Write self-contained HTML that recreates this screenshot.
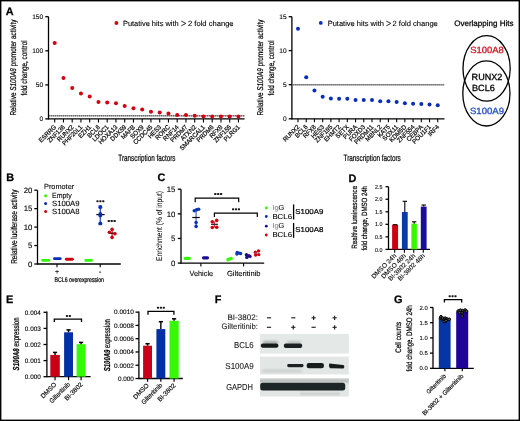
<!DOCTYPE html>
<html><head><meta charset="utf-8"><style>
html,body{margin:0;padding:0;background:#fff;}
svg{display:block;will-change:transform;}
text{font-family:"Liberation Sans", sans-serif;text-rendering:geometricPrecision;}
</style></head><body>
<svg width="520" height="421" viewBox="0 0 520 421">
<rect width="520" height="421" fill="#fff"/>
<text x="5.80" y="14.80" font-size="10.9" font-weight="bold" stroke="#000" stroke-width="0.25" >A</text>
<line x1="48.50" y1="16.70" x2="48.50" y2="119.55" stroke="#000" stroke-width="1.3" />
<line x1="45.30" y1="16.70" x2="48.50" y2="16.70" stroke="#000" stroke-width="1.3" />
<text x="43.20" y="19.10" font-size="6.6" text-anchor="end" stroke="#000" stroke-width="0.1" >150</text>
<line x1="45.30" y1="50.80" x2="48.50" y2="50.80" stroke="#000" stroke-width="1.3" />
<text x="43.20" y="53.20" font-size="6.6" text-anchor="end" stroke="#000" stroke-width="0.1" >100</text>
<line x1="45.30" y1="84.90" x2="48.50" y2="84.90" stroke="#000" stroke-width="1.3" />
<text x="43.20" y="87.30" font-size="6.6" text-anchor="end" stroke="#000" stroke-width="0.1" >50</text>
<line x1="45.30" y1="118.90" x2="48.50" y2="118.90" stroke="#000" stroke-width="1.3" />
<text x="43.20" y="121.30" font-size="6.6" text-anchor="end" stroke="#000" stroke-width="0.1" >0</text>
<line x1="48.50" y1="118.90" x2="244.60" y2="118.90" stroke="#000" stroke-width="1.3" />
<line x1="49.20" y1="115.80" x2="244.60" y2="115.80" stroke="#bbb" stroke-width="1.4" />
<line x1="49.20" y1="115.80" x2="244.60" y2="115.80" stroke="#555" stroke-width="1.4" stroke-dasharray="1 1"/>
<line x1="54.70" y1="118.90" x2="54.70" y2="122.40" stroke="#000" stroke-width="1.1" />
<circle cx="54.70" cy="42.90" r="2.0" fill="#d0000f"/>
<text transform="translate(56.70,127.50) rotate(-45)" font-size="6.4" text-anchor="end" textLength="21.69" lengthAdjust="spacingAndGlyphs" stroke="#000" stroke-width="0.2" >ESRRG</text>
<line x1="63.45" y1="118.90" x2="63.45" y2="122.40" stroke="#000" stroke-width="1.1" />
<circle cx="63.45" cy="78.00" r="2.0" fill="#d0000f"/>
<text transform="translate(65.45,127.50) rotate(-45)" font-size="6.4" text-anchor="end" textLength="22.03" lengthAdjust="spacingAndGlyphs" stroke="#000" stroke-width="0.2" >ZNF136</text>
<line x1="72.20" y1="118.90" x2="72.20" y2="122.40" stroke="#000" stroke-width="1.1" />
<circle cx="72.20" cy="88.00" r="2.0" fill="#d0000f"/>
<text transform="translate(74.20,127.50) rotate(-45)" font-size="6.4" text-anchor="end" textLength="20.68" lengthAdjust="spacingAndGlyphs" stroke="#000" stroke-width="0.2" >RUNX2</text>
<line x1="80.95" y1="118.90" x2="80.95" y2="122.40" stroke="#000" stroke-width="1.1" />
<circle cx="80.95" cy="93.50" r="2.0" fill="#d0000f"/>
<text transform="translate(82.95,127.50) rotate(-45)" font-size="6.4" text-anchor="end" textLength="25.77" lengthAdjust="spacingAndGlyphs" stroke="#000" stroke-width="0.2" >PHF20L1</text>
<line x1="89.70" y1="118.90" x2="89.70" y2="122.40" stroke="#000" stroke-width="1.1" />
<circle cx="89.70" cy="96.50" r="2.0" fill="#d0000f"/>
<text transform="translate(91.70,127.50) rotate(-45)" font-size="6.4" text-anchor="end" textLength="15.59" lengthAdjust="spacingAndGlyphs" stroke="#000" stroke-width="0.2" >EZH1</text>
<line x1="98.45" y1="118.90" x2="98.45" y2="122.40" stroke="#000" stroke-width="1.1" />
<circle cx="98.45" cy="102.00" r="2.0" fill="#d0000f"/>
<text transform="translate(100.45,127.50) rotate(-45)" font-size="6.4" text-anchor="end" textLength="15.26" lengthAdjust="spacingAndGlyphs" stroke="#000" stroke-width="0.2" >BCL6</text>
<line x1="107.20" y1="118.90" x2="107.20" y2="122.40" stroke="#000" stroke-width="1.1" />
<circle cx="107.20" cy="102.40" r="2.0" fill="#d0000f"/>
<text transform="translate(109.20,127.50) rotate(-45)" font-size="6.4" text-anchor="end" textLength="20.34" lengthAdjust="spacingAndGlyphs" stroke="#000" stroke-width="0.2" >LDOC1</text>
<line x1="115.95" y1="118.90" x2="115.95" y2="122.40" stroke="#000" stroke-width="1.1" />
<circle cx="115.95" cy="103.30" r="2.0" fill="#d0000f"/>
<text transform="translate(117.95,127.50) rotate(-45)" font-size="6.4" text-anchor="end" textLength="24.07" lengthAdjust="spacingAndGlyphs" stroke="#000" stroke-width="0.2" >HOXA13</text>
<line x1="124.70" y1="118.90" x2="124.70" y2="122.40" stroke="#000" stroke-width="1.1" />
<circle cx="124.70" cy="106.00" r="2.0" fill="#d0000f"/>
<text transform="translate(126.70,127.50) rotate(-45)" font-size="6.4" text-anchor="end" textLength="19.66" lengthAdjust="spacingAndGlyphs" stroke="#000" stroke-width="0.2" >DDX59</text>
<line x1="133.45" y1="118.90" x2="133.45" y2="122.40" stroke="#000" stroke-width="1.1" />
<circle cx="133.45" cy="108.20" r="2.0" fill="#d0000f"/>
<text transform="translate(135.45,127.50) rotate(-45)" font-size="6.4" text-anchor="end" textLength="16.94" lengthAdjust="spacingAndGlyphs" stroke="#000" stroke-width="0.2" >MAFB</text>
<line x1="142.20" y1="118.90" x2="142.20" y2="122.40" stroke="#000" stroke-width="1.1" />
<circle cx="142.20" cy="109.50" r="2.0" fill="#d0000f"/>
<text transform="translate(144.20,127.50) rotate(-45)" font-size="6.4" text-anchor="end" textLength="16.27" lengthAdjust="spacingAndGlyphs" stroke="#000" stroke-width="0.2" >SOX9</text>
<line x1="150.95" y1="118.90" x2="150.95" y2="122.40" stroke="#000" stroke-width="1.1" />
<circle cx="150.95" cy="111.80" r="2.0" fill="#d0000f"/>
<text transform="translate(152.95,127.50) rotate(-45)" font-size="6.4" text-anchor="end" textLength="24.41" lengthAdjust="spacingAndGlyphs" stroke="#000" stroke-width="0.2" >CCDC45</text>
<line x1="159.70" y1="118.90" x2="159.70" y2="122.40" stroke="#000" stroke-width="1.1" />
<circle cx="159.70" cy="112.50" r="2.0" fill="#d0000f"/>
<text transform="translate(161.70,127.50) rotate(-45)" font-size="6.4" text-anchor="end" textLength="15.94" lengthAdjust="spacingAndGlyphs" stroke="#000" stroke-width="0.2" >HES3</text>
<line x1="168.45" y1="118.90" x2="168.45" y2="122.40" stroke="#000" stroke-width="1.1" />
<circle cx="168.45" cy="113.40" r="2.0" fill="#d0000f"/>
<text transform="translate(170.45,127.50) rotate(-45)" font-size="6.4" text-anchor="end" textLength="17.96" lengthAdjust="spacingAndGlyphs" stroke="#000" stroke-width="0.2" >RORC</text>
<line x1="177.20" y1="118.90" x2="177.20" y2="122.40" stroke="#000" stroke-width="1.1" />
<circle cx="177.20" cy="115.10" r="2.0" fill="#d0000f"/>
<text transform="translate(179.20,127.50) rotate(-45)" font-size="6.4" text-anchor="end" textLength="19.32" lengthAdjust="spacingAndGlyphs" stroke="#000" stroke-width="0.2" >RNF14</text>
<line x1="185.95" y1="118.90" x2="185.95" y2="122.40" stroke="#000" stroke-width="1.1" />
<circle cx="185.95" cy="115.10" r="2.0" fill="#d0000f"/>
<text transform="translate(187.95,127.50) rotate(-45)" font-size="6.4" text-anchor="end" textLength="21.35" lengthAdjust="spacingAndGlyphs" stroke="#000" stroke-width="0.2" >PRDM7</text>
<line x1="194.70" y1="118.90" x2="194.70" y2="122.40" stroke="#000" stroke-width="1.1" />
<circle cx="194.70" cy="115.70" r="2.0" fill="#d0000f"/>
<text transform="translate(196.70,127.50) rotate(-45)" font-size="6.4" text-anchor="end" textLength="19.21" lengthAdjust="spacingAndGlyphs" stroke="#000" stroke-width="0.2" >ATXN2</text>
<line x1="203.45" y1="118.90" x2="203.45" y2="122.40" stroke="#000" stroke-width="1.1" />
<circle cx="203.45" cy="116.60" r="2.0" fill="#d0000f"/>
<text transform="translate(205.45,127.50) rotate(-45)" font-size="6.4" text-anchor="end" textLength="32.88" lengthAdjust="spacingAndGlyphs" stroke="#000" stroke-width="0.2" >SMARCAL1</text>
<line x1="212.20" y1="118.90" x2="212.20" y2="122.40" stroke="#000" stroke-width="1.1" />
<circle cx="212.20" cy="116.60" r="2.0" fill="#d0000f"/>
<text transform="translate(214.20,127.50) rotate(-45)" font-size="6.4" text-anchor="end" textLength="21.35" lengthAdjust="spacingAndGlyphs" stroke="#000" stroke-width="0.2" >PRDM6</text>
<line x1="220.95" y1="118.90" x2="220.95" y2="122.40" stroke="#000" stroke-width="1.1" />
<circle cx="220.95" cy="116.60" r="2.0" fill="#d0000f"/>
<text transform="translate(222.95,127.50) rotate(-45)" font-size="6.4" text-anchor="end" textLength="15.59" lengthAdjust="spacingAndGlyphs" stroke="#000" stroke-width="0.2" >RFX8</text>
<line x1="229.70" y1="118.90" x2="229.70" y2="122.40" stroke="#000" stroke-width="1.1" />
<circle cx="229.70" cy="116.60" r="2.0" fill="#d0000f"/>
<text transform="translate(231.70,127.50) rotate(-45)" font-size="6.4" text-anchor="end" textLength="22.03" lengthAdjust="spacingAndGlyphs" stroke="#000" stroke-width="0.2" >ZNF155</text>
<line x1="238.45" y1="118.90" x2="238.45" y2="122.40" stroke="#000" stroke-width="1.1" />
<circle cx="238.45" cy="116.60" r="2.0" fill="#d0000f"/>
<text transform="translate(240.45,127.50) rotate(-45)" font-size="6.4" text-anchor="end" textLength="20.0" lengthAdjust="spacingAndGlyphs" stroke="#000" stroke-width="0.2" >PLRG1</text>
<circle cx="116.40" cy="23.00" r="1.9" fill="#d0000f"/>
<text x="123.00" y="25.80" font-size="7.5" textLength="55.6" lengthAdjust="spacingAndGlyphs" stroke="#000" stroke-width="0.1" >Putative hits with</text>
<path d="M181.3,21.1 L185.9,23.45 L181.3,25.8" fill="none" stroke="#222" stroke-width="0.95"/>
<text x="188.00" y="25.80" font-size="7.5" textLength="45.6" lengthAdjust="spacingAndGlyphs" stroke="#000" stroke-width="0.1" >2 fold change</text>
<text transform="translate(15.60,115.60) rotate(-90)" font-size="8.4" textLength="96" lengthAdjust="spacingAndGlyphs" stroke="#000" stroke-width="0.22">Relative <tspan font-style="italic">S100A8</tspan> promoter activity</text>
<text transform="translate(27.00,95.60) rotate(-90)" font-size="8.4" textLength="55.2" lengthAdjust="spacingAndGlyphs" stroke="#000" stroke-width="0.22">fold change, control</text>
<text x="118.30" y="160.70" font-size="9" textLength="57.2" lengthAdjust="spacingAndGlyphs" stroke="#000" stroke-width="0.22">Transcription factors</text>
<line x1="291.90" y1="16.70" x2="291.90" y2="119.45" stroke="#000" stroke-width="1.3" />
<line x1="288.70" y1="16.70" x2="291.90" y2="16.70" stroke="#000" stroke-width="1.3" />
<text x="286.60" y="19.10" font-size="6.6" text-anchor="end" stroke="#000" stroke-width="0.1" >15</text>
<line x1="288.70" y1="50.60" x2="291.90" y2="50.60" stroke="#000" stroke-width="1.3" />
<text x="286.60" y="53.00" font-size="6.6" text-anchor="end" stroke="#000" stroke-width="0.1" >10</text>
<line x1="288.70" y1="84.70" x2="291.90" y2="84.70" stroke="#000" stroke-width="1.3" />
<text x="286.60" y="87.10" font-size="6.6" text-anchor="end" stroke="#000" stroke-width="0.1" >5</text>
<line x1="288.70" y1="118.80" x2="291.90" y2="118.80" stroke="#000" stroke-width="1.3" />
<text x="286.60" y="121.20" font-size="6.6" text-anchor="end" stroke="#000" stroke-width="0.1" >0</text>
<line x1="291.90" y1="118.80" x2="444.50" y2="118.80" stroke="#000" stroke-width="1.3" />
<line x1="292.60" y1="84.80" x2="444.50" y2="84.80" stroke="#bbb" stroke-width="1.4" />
<line x1="292.60" y1="84.80" x2="444.50" y2="84.80" stroke="#555" stroke-width="1.4" stroke-dasharray="1 1"/>
<line x1="298.00" y1="118.80" x2="298.00" y2="122.30" stroke="#000" stroke-width="1.1" />
<circle cx="298.00" cy="28.70" r="2.0" fill="#0a2db5"/>
<text transform="translate(300.00,127.40) rotate(-45)" font-size="6.4" text-anchor="end" textLength="20.68" lengthAdjust="spacingAndGlyphs" stroke="#000" stroke-width="0.2" >RUNX2</text>
<line x1="306.22" y1="118.80" x2="306.22" y2="122.30" stroke="#000" stroke-width="1.1" />
<circle cx="306.22" cy="77.30" r="2.0" fill="#0a2db5"/>
<text transform="translate(308.22,127.40) rotate(-45)" font-size="6.4" text-anchor="end" textLength="15.26" lengthAdjust="spacingAndGlyphs" stroke="#000" stroke-width="0.2" >BCL6</text>
<line x1="314.44" y1="118.80" x2="314.44" y2="122.30" stroke="#000" stroke-width="1.1" />
<circle cx="314.44" cy="90.40" r="2.0" fill="#0a2db5"/>
<text transform="translate(316.44,127.40) rotate(-45)" font-size="6.4" text-anchor="end" textLength="15.59" lengthAdjust="spacingAndGlyphs" stroke="#000" stroke-width="0.2" >RFX8</text>
<line x1="322.66" y1="118.80" x2="322.66" y2="122.30" stroke="#000" stroke-width="1.1" />
<circle cx="322.66" cy="96.70" r="2.0" fill="#0a2db5"/>
<text transform="translate(324.66,127.40) rotate(-45)" font-size="6.4" text-anchor="end" textLength="15.94" lengthAdjust="spacingAndGlyphs" stroke="#000" stroke-width="0.2" >HES3</text>
<line x1="330.88" y1="118.80" x2="330.88" y2="122.30" stroke="#000" stroke-width="1.1" />
<circle cx="330.88" cy="98.50" r="2.0" fill="#0a2db5"/>
<text transform="translate(332.88,127.40) rotate(-45)" font-size="6.4" text-anchor="end" textLength="22.03" lengthAdjust="spacingAndGlyphs" stroke="#000" stroke-width="0.2" >ZNF195</text>
<line x1="339.10" y1="118.80" x2="339.10" y2="122.30" stroke="#000" stroke-width="1.1" />
<circle cx="339.10" cy="98.80" r="2.0" fill="#0a2db5"/>
<text transform="translate(341.10,127.40) rotate(-45)" font-size="6.4" text-anchor="end" textLength="20.67" lengthAdjust="spacingAndGlyphs" stroke="#000" stroke-width="0.2" >EHMT2</text>
<line x1="347.32" y1="118.80" x2="347.32" y2="122.30" stroke="#000" stroke-width="1.1" />
<circle cx="347.32" cy="98.80" r="2.0" fill="#0a2db5"/>
<text transform="translate(349.32,127.40) rotate(-45)" font-size="6.4" text-anchor="end" textLength="15.93" lengthAdjust="spacingAndGlyphs" stroke="#000" stroke-width="0.2" >SETX</text>
<line x1="355.54" y1="118.80" x2="355.54" y2="122.30" stroke="#000" stroke-width="1.1" />
<circle cx="355.54" cy="100.00" r="2.0" fill="#0a2db5"/>
<text transform="translate(357.54,127.40) rotate(-45)" font-size="6.4" text-anchor="end" textLength="16.95" lengthAdjust="spacingAndGlyphs" stroke="#000" stroke-width="0.2" >PURA</text>
<line x1="363.76" y1="118.80" x2="363.76" y2="122.30" stroke="#000" stroke-width="1.1" />
<circle cx="363.76" cy="100.00" r="2.0" fill="#0a2db5"/>
<text transform="translate(365.76,127.40) rotate(-45)" font-size="6.4" text-anchor="end" textLength="20.34" lengthAdjust="spacingAndGlyphs" stroke="#000" stroke-width="0.2" >FOXD3</text>
<line x1="371.98" y1="118.80" x2="371.98" y2="122.30" stroke="#000" stroke-width="1.1" />
<circle cx="371.98" cy="100.00" r="2.0" fill="#0a2db5"/>
<text transform="translate(373.98,127.40) rotate(-45)" font-size="6.4" text-anchor="end" textLength="24.29" lengthAdjust="spacingAndGlyphs" stroke="#000" stroke-width="0.2" >PRDM11</text>
<line x1="380.20" y1="118.80" x2="380.20" y2="122.30" stroke="#000" stroke-width="1.1" />
<circle cx="380.20" cy="101.20" r="2.0" fill="#0a2db5"/>
<text transform="translate(382.20,127.40) rotate(-45)" font-size="6.4" text-anchor="end" textLength="20.34" lengthAdjust="spacingAndGlyphs" stroke="#000" stroke-width="0.2" >MBNL2</text>
<line x1="388.42" y1="118.80" x2="388.42" y2="122.30" stroke="#000" stroke-width="1.1" />
<circle cx="388.42" cy="101.20" r="2.0" fill="#0a2db5"/>
<text transform="translate(390.42,127.40) rotate(-45)" font-size="6.4" text-anchor="end" textLength="14.8" lengthAdjust="spacingAndGlyphs" stroke="#000" stroke-width="0.2" >KAT5</text>
<line x1="396.64" y1="118.80" x2="396.64" y2="122.30" stroke="#000" stroke-width="1.1" />
<circle cx="396.64" cy="102.10" r="2.0" fill="#0a2db5"/>
<text transform="translate(398.64,127.40) rotate(-45)" font-size="6.4" text-anchor="end" textLength="19.21" lengthAdjust="spacingAndGlyphs" stroke="#000" stroke-width="0.2" >SOX11</text>
<line x1="404.86" y1="118.80" x2="404.86" y2="122.30" stroke="#000" stroke-width="1.1" />
<circle cx="404.86" cy="103.30" r="2.0" fill="#0a2db5"/>
<text transform="translate(406.86,127.40) rotate(-45)" font-size="6.4" text-anchor="end" textLength="21.35" lengthAdjust="spacingAndGlyphs" stroke="#000" stroke-width="0.2" >KDM5D</text>
<line x1="413.08" y1="118.80" x2="413.08" y2="122.30" stroke="#000" stroke-width="1.1" />
<circle cx="413.08" cy="103.70" r="2.0" fill="#0a2db5"/>
<text transform="translate(415.08,127.40) rotate(-45)" font-size="6.4" text-anchor="end" textLength="22.03" lengthAdjust="spacingAndGlyphs" stroke="#000" stroke-width="0.2" >ZNF554</text>
<line x1="421.30" y1="118.80" x2="421.30" y2="122.30" stroke="#000" stroke-width="1.1" />
<circle cx="421.30" cy="104.00" r="2.0" fill="#0a2db5"/>
<text transform="translate(423.30,127.40) rotate(-45)" font-size="6.4" text-anchor="end" textLength="20.23" lengthAdjust="spacingAndGlyphs" stroke="#000" stroke-width="0.2" >CEBPA</text>
<line x1="429.52" y1="118.80" x2="429.52" y2="122.30" stroke="#000" stroke-width="1.1" />
<circle cx="429.52" cy="104.60" r="2.0" fill="#0a2db5"/>
<text transform="translate(431.52,127.40) rotate(-45)" font-size="6.4" text-anchor="end" textLength="23.73" lengthAdjust="spacingAndGlyphs" stroke="#000" stroke-width="0.2" >POU1F1</text>
<line x1="437.74" y1="118.80" x2="437.74" y2="122.30" stroke="#000" stroke-width="1.1" />
<circle cx="437.74" cy="105.20" r="2.0" fill="#0a2db5"/>
<text transform="translate(439.74,127.40) rotate(-45)" font-size="6.4" text-anchor="end" textLength="13.22" lengthAdjust="spacingAndGlyphs" stroke="#000" stroke-width="0.2" >IRF4</text>
<circle cx="320.80" cy="22.90" r="1.9" fill="#0a2db5"/>
<text x="327.70" y="25.70" font-size="7.5" textLength="56.2" lengthAdjust="spacingAndGlyphs" stroke="#000" stroke-width="0.1" >Putative hits with</text>
<path d="M386.3,21.1 L390.9,23.45 L386.3,25.8" fill="none" stroke="#222" stroke-width="0.95"/>
<text x="392.50" y="25.70" font-size="7.5" textLength="45.3" lengthAdjust="spacingAndGlyphs" stroke="#000" stroke-width="0.1" >2 fold change</text>
<text transform="translate(263.00,115.60) rotate(-90)" font-size="8.4" textLength="96" lengthAdjust="spacingAndGlyphs" stroke="#000" stroke-width="0.22">Relative <tspan font-style="italic">S100A9</tspan> promoter activity</text>
<text transform="translate(274.00,95.50) rotate(-90)" font-size="8.4" textLength="55.1" lengthAdjust="spacingAndGlyphs" stroke="#000" stroke-width="0.22">fold change, control</text>
<text x="343.50" y="160.80" font-size="9" textLength="57.3" lengthAdjust="spacingAndGlyphs" stroke="#000" stroke-width="0.22">Transcription factors</text>
<text x="454.20" y="25.80" font-size="8.0" textLength="59.3" lengthAdjust="spacingAndGlyphs" stroke="#000" stroke-width="0.25" >Overlapping Hits</text>
<ellipse cx="486.6" cy="68.4" rx="23.6" ry="32.7" fill="none" stroke="#000" stroke-width="1.3"/>
<ellipse cx="486.4" cy="93.4" rx="23.6" ry="32.6" fill="none" stroke="#000" stroke-width="1.3"/>
<text x="470.20" y="53.30" font-size="9.0" fill="#d41c2a" textLength="33.5" lengthAdjust="spacingAndGlyphs" stroke="#d41c2a" stroke-width="0.35" >S100A8</text>
<text x="471.60" y="79.70" font-size="9.0" textLength="30.7" lengthAdjust="spacingAndGlyphs" stroke="#000" stroke-width="0.3" >RUNX2</text>
<text x="472.00" y="91.10" font-size="9.0" textLength="22.9" lengthAdjust="spacingAndGlyphs" stroke="#000" stroke-width="0.3" >BCL6</text>
<text x="470.00" y="113.70" font-size="9.0" fill="#2a54c6" textLength="34" lengthAdjust="spacingAndGlyphs" stroke="#2a54c6" stroke-width="0.35" >S100A9</text>
<text x="6.20" y="181.30" font-size="10.9" font-weight="bold" stroke="#000" stroke-width="0.25" >B</text>
<line x1="37.50" y1="190.30" x2="37.50" y2="264.65" stroke="#000" stroke-width="1.3" />
<line x1="34.30" y1="264.00" x2="37.50" y2="264.00" stroke="#000" stroke-width="1.3" />
<text x="32.40" y="266.70" font-size="7.8" text-anchor="end" stroke="#000" stroke-width="0.1" >0</text>
<line x1="34.30" y1="245.55" x2="37.50" y2="245.55" stroke="#000" stroke-width="1.3" />
<text x="32.40" y="248.25" font-size="7.8" text-anchor="end" stroke="#000" stroke-width="0.1" >5</text>
<line x1="34.30" y1="227.10" x2="37.50" y2="227.10" stroke="#000" stroke-width="1.3" />
<text x="32.40" y="229.80" font-size="7.8" text-anchor="end" stroke="#000" stroke-width="0.1" >10</text>
<line x1="34.30" y1="208.65" x2="37.50" y2="208.65" stroke="#000" stroke-width="1.3" />
<text x="32.40" y="211.35" font-size="7.8" text-anchor="end" stroke="#000" stroke-width="0.1" >15</text>
<line x1="34.30" y1="190.20" x2="37.50" y2="190.20" stroke="#000" stroke-width="1.3" />
<text x="32.40" y="192.90" font-size="7.8" text-anchor="end" stroke="#000" stroke-width="0.1" >20</text>
<line x1="37.50" y1="264.00" x2="120.80" y2="264.00" stroke="#000" stroke-width="1.3" />
<line x1="57.00" y1="264.00" x2="57.00" y2="267.30" stroke="#000" stroke-width="1.1" />
<text x="57.00" y="274.00" font-size="7.0" text-anchor="middle" stroke="#000" stroke-width="0.1" >+</text>
<line x1="100.20" y1="264.00" x2="100.20" y2="267.30" stroke="#000" stroke-width="1.1" />
<text x="100.20" y="274.00" font-size="7.0" text-anchor="middle" stroke="#000" stroke-width="0.1" >-</text>
<text x="54.60" y="282.20" font-size="6.8" textLength="49.4" lengthAdjust="spacingAndGlyphs" stroke="#000" stroke-width="0.22">BCL6 overexpression</text>
<text transform="translate(16.60,263.80) rotate(-90)" font-size="8.6" textLength="74.2" lengthAdjust="spacingAndGlyphs" stroke="#000" stroke-width="0.22">Relative luciferase activity</text>
<text x="44.00" y="189.30" font-size="7.4" textLength="30.2" lengthAdjust="spacingAndGlyphs" stroke="#000" stroke-width="0.1" >Promoter</text>
<circle cx="45.60" cy="195.70" r="1.5" fill="#33f800"/>
<text x="52.00" y="197.80" font-size="7.6" textLength="19.8" lengthAdjust="spacingAndGlyphs" stroke="#000" stroke-width="0.1" >Empty</text>
<circle cx="45.60" cy="203.60" r="1.5" fill="#0a2db5"/>
<text x="52.00" y="206.40" font-size="7.6" textLength="27.6" lengthAdjust="spacingAndGlyphs" stroke="#000" stroke-width="0.1" >S100A9</text>
<circle cx="45.60" cy="211.50" r="1.5" fill="#d0000f"/>
<text x="52.00" y="214.40" font-size="7.6" textLength="27.6" lengthAdjust="spacingAndGlyphs" stroke="#000" stroke-width="0.1" >S100A8</text>
<line x1="42.65" y1="260.35" x2="48.75" y2="260.35" stroke="#33f800" stroke-width="2.9" stroke-linecap="round"/>
<line x1="54.45" y1="258.65" x2="60.25" y2="258.65" stroke="#0a2db5" stroke-width="2.9" stroke-linecap="round"/>
<line x1="66.35" y1="259.20" x2="72.35" y2="259.20" stroke="#d0000f" stroke-width="2.9" stroke-linecap="round"/>
<line x1="85.85" y1="260.40" x2="91.45" y2="260.40" stroke="#33f800" stroke-width="2.9" stroke-linecap="round"/>
<line x1="100.30" y1="207.00" x2="100.30" y2="223.30" stroke="#2a50c8" stroke-width="1.3" />
<line x1="96.30" y1="214.60" x2="104.60" y2="214.60" stroke="#000" stroke-width="1.2" />
<circle cx="100.30" cy="207.20" r="1.9" fill="#0a2db5"/>
<circle cx="100.30" cy="214.00" r="1.9" fill="#0a2db5"/>
<circle cx="100.30" cy="215.60" r="1.9" fill="#0a2db5"/>
<circle cx="100.30" cy="223.30" r="1.9" fill="#0a2db5"/>
<line x1="98.50" y1="206.00" x2="102.10" y2="206.00" stroke="#0a2db5" stroke-width="1.1" />
<line x1="98.50" y1="224.60" x2="102.10" y2="224.60" stroke="#0a2db5" stroke-width="1.1" />
<rect x="96.40" y="200.20" width="2.2" height="2.0" rx="0.6" fill="#1a1a1a"/>
<rect x="99.30" y="200.20" width="2.2" height="2.0" rx="0.6" fill="#1a1a1a"/>
<rect x="102.20" y="200.20" width="2.2" height="2.0" rx="0.6" fill="#1a1a1a"/>
<line x1="112.10" y1="229.00" x2="112.10" y2="237.70" stroke="#d83040" stroke-width="1.3" />
<line x1="108.80" y1="233.20" x2="115.40" y2="233.20" stroke="#000" stroke-width="1.2" />
<circle cx="112.10" cy="229.40" r="1.8" fill="#d0000f"/>
<circle cx="109.40" cy="232.30" r="1.8" fill="#d0000f"/>
<circle cx="115.00" cy="233.80" r="1.8" fill="#d0000f"/>
<circle cx="112.10" cy="237.40" r="1.8" fill="#d0000f"/>
<rect x="107.70" y="220.00" width="2.2" height="2.0" rx="0.6" fill="#1a1a1a"/>
<rect x="110.60" y="220.00" width="2.2" height="2.0" rx="0.6" fill="#1a1a1a"/>
<rect x="113.50" y="220.00" width="2.2" height="2.0" rx="0.6" fill="#1a1a1a"/>
<text x="157.60" y="181.20" font-size="10.9" font-weight="bold" stroke="#000" stroke-width="0.25" >C</text>
<line x1="181.00" y1="189.20" x2="181.00" y2="263.75" stroke="#000" stroke-width="1.3" />
<line x1="177.80" y1="263.10" x2="181.00" y2="263.10" stroke="#000" stroke-width="1.3" />
<text x="175.40" y="265.80" font-size="7.8" text-anchor="end" stroke="#000" stroke-width="0.1" >0</text>
<line x1="177.80" y1="238.47" x2="181.00" y2="238.47" stroke="#000" stroke-width="1.3" />
<text x="175.40" y="241.17" font-size="7.8" text-anchor="end" stroke="#000" stroke-width="0.1" >5</text>
<line x1="177.80" y1="213.84" x2="181.00" y2="213.84" stroke="#000" stroke-width="1.3" />
<text x="175.40" y="216.54" font-size="7.8" text-anchor="end" stroke="#000" stroke-width="0.1" >10</text>
<line x1="177.80" y1="189.21" x2="181.00" y2="189.21" stroke="#000" stroke-width="1.3" />
<text x="175.40" y="191.91" font-size="7.8" text-anchor="end" stroke="#000" stroke-width="0.1" >15</text>
<line x1="181.00" y1="263.10" x2="264.20" y2="263.10" stroke="#000" stroke-width="1.3" />
<line x1="200.90" y1="263.10" x2="200.90" y2="266.60" stroke="#000" stroke-width="1.1" />
<line x1="243.60" y1="263.10" x2="243.60" y2="266.60" stroke="#000" stroke-width="1.1" />
<text x="189.50" y="276.00" font-size="7.4" textLength="23.6" lengthAdjust="spacingAndGlyphs" stroke="#000" stroke-width="0.1" >Vehicle</text>
<text x="226.90" y="276.00" font-size="7.4" textLength="33.7" lengthAdjust="spacingAndGlyphs" stroke="#000" stroke-width="0.1" >Gilteritinib</text>
<text transform="translate(162.20,260.90) rotate(-90)" font-size="8.2" textLength="70" lengthAdjust="spacingAndGlyphs" stroke="#000" stroke-width="0.05" >Enrichment (% of input)</text>
<path d="M195.2,202.2 V198.2 H238.7 V202.2" fill="none" stroke="#000" stroke-width="1.2"/>
<rect x="214.20" y="193.00" width="2.2" height="2.0" rx="0.6" fill="#1a1a1a"/>
<rect x="217.10" y="193.00" width="2.2" height="2.0" rx="0.6" fill="#1a1a1a"/>
<rect x="220.00" y="193.00" width="2.2" height="2.0" rx="0.6" fill="#1a1a1a"/>
<path d="M214.4,217.0 V213.2 H257.3 V217.0" fill="none" stroke="#000" stroke-width="1.2"/>
<rect x="232.00" y="208.30" width="2.2" height="2.0" rx="0.6" fill="#1a1a1a"/>
<rect x="234.90" y="208.30" width="2.2" height="2.0" rx="0.6" fill="#1a1a1a"/>
<rect x="237.80" y="208.30" width="2.2" height="2.0" rx="0.6" fill="#1a1a1a"/>
<line x1="196.10" y1="210.00" x2="196.10" y2="226.60" stroke="#4a72cc" stroke-width="1.3" />
<line x1="192.30" y1="217.50" x2="199.80" y2="217.50" stroke="#000" stroke-width="1.2" />
<circle cx="194.30" cy="210.70" r="1.8" fill="#0b34b6"/>
<circle cx="196.60" cy="209.70" r="1.8" fill="#0b34b6"/>
<circle cx="198.60" cy="209.30" r="1.8" fill="#0b34b6"/>
<circle cx="196.10" cy="222.50" r="1.8" fill="#0b34b6"/>
<circle cx="196.10" cy="226.40" r="1.8" fill="#0b34b6"/>
<line x1="185.30" y1="258.40" x2="189.20" y2="258.40" stroke="#33f800" stroke-width="3.2" stroke-linecap="round"/>
<line x1="203.50" y1="257.80" x2="207.50" y2="257.80" stroke="#1a0a9c" stroke-width="3.2" stroke-linecap="round"/>
<line x1="214.30" y1="221.50" x2="214.30" y2="227.50" stroke="#d83040" stroke-width="1.3" />
<line x1="211.00" y1="224.30" x2="218.00" y2="224.30" stroke="#222" stroke-width="1.2" />
<circle cx="212.30" cy="221.80" r="1.8" fill="#d0000f"/>
<circle cx="216.70" cy="220.40" r="1.8" fill="#d0000f"/>
<circle cx="212.30" cy="227.50" r="1.8" fill="#d0000f"/>
<circle cx="216.70" cy="227.20" r="1.8" fill="#d0000f"/>
<circle cx="227.90" cy="259.70" r="1.7" fill="#33f800"/>
<circle cx="229.60" cy="259.00" r="1.7" fill="#33f800"/>
<circle cx="231.20" cy="258.40" r="1.7" fill="#33f800"/>
<circle cx="237.20" cy="252.50" r="1.7" fill="#0b34b6"/>
<circle cx="236.90" cy="254.10" r="1.7" fill="#0b34b6"/>
<circle cx="239.20" cy="253.10" r="1.7" fill="#0b34b6"/>
<circle cx="240.60" cy="253.50" r="1.7" fill="#0b34b6"/>
<circle cx="246.40" cy="254.80" r="1.7" fill="#1a0a9c"/>
<circle cx="246.80" cy="257.40" r="1.7" fill="#1a0a9c"/>
<circle cx="248.80" cy="255.70" r="1.7" fill="#1a0a9c"/>
<circle cx="250.00" cy="256.40" r="1.7" fill="#1a0a9c"/>
<line x1="245.80" y1="256.00" x2="249.50" y2="256.00" stroke="#222" stroke-width="0.9" />
<circle cx="255.40" cy="252.20" r="1.7" fill="#d0000f"/>
<circle cx="258.60" cy="250.90" r="1.7" fill="#d0000f"/>
<circle cx="255.60" cy="255.00" r="1.7" fill="#d0000f"/>
<circle cx="258.80" cy="254.60" r="1.7" fill="#d0000f"/>
<line x1="255.00" y1="253.20" x2="259.50" y2="253.20" stroke="#777" stroke-width="0.9" />
<circle cx="266.30" cy="208.00" r="1.4" fill="#33f800"/>
<text x="272.40" y="209.80" font-size="7.2" fill="#222" textLength="12.0" lengthAdjust="spacingAndGlyphs" stroke="#222" stroke-width="0.1" ><tspan fill="#888" stroke="#888">Ig</tspan>G</text>
<circle cx="266.30" cy="216.50" r="1.4" fill="#0b34b6"/>
<text x="272.40" y="218.80" font-size="7.2" textLength="19.6" lengthAdjust="spacingAndGlyphs" stroke="#000" stroke-width="0.1" >BCL6</text>
<circle cx="266.30" cy="226.20" r="1.4" fill="#1a0a9c"/>
<text x="272.40" y="228.00" font-size="7.2" fill="#222" textLength="12.0" lengthAdjust="spacingAndGlyphs" stroke="#222" stroke-width="0.1" ><tspan fill="#888" stroke="#888">Ig</tspan>G</text>
<circle cx="266.30" cy="235.00" r="1.4" fill="#d0000f"/>
<text x="272.40" y="237.10" font-size="7.2" textLength="19.6" lengthAdjust="spacingAndGlyphs" stroke="#000" stroke-width="0.1" >BCL6</text>
<line x1="293.60" y1="204.40" x2="293.60" y2="219.50" stroke="#000" stroke-width="1.3" />
<line x1="293.60" y1="223.00" x2="293.60" y2="237.80" stroke="#000" stroke-width="1.3" />
<text x="295.30" y="213.80" font-size="7.2" textLength="28" lengthAdjust="spacingAndGlyphs" stroke="#000" stroke-width="0.2" >S100A9</text>
<text x="295.30" y="232.00" font-size="7.2" textLength="28" lengthAdjust="spacingAndGlyphs" stroke="#000" stroke-width="0.2" >S100A8</text>
<text x="348.60" y="182.30" font-size="10.9" font-weight="bold" stroke="#000" stroke-width="0.25" >D</text>
<line x1="388.50" y1="186.70" x2="388.50" y2="250.05" stroke="#000" stroke-width="1.3" />
<line x1="385.50" y1="249.40" x2="388.50" y2="249.40" stroke="#000" stroke-width="1.3" />
<text x="382.40" y="251.50" font-size="5.8" text-anchor="end" textLength="7.4" lengthAdjust="spacingAndGlyphs" stroke="#000" stroke-width="0.1" >0.0</text>
<line x1="385.50" y1="236.86" x2="388.50" y2="236.86" stroke="#000" stroke-width="1.3" />
<text x="382.40" y="238.96" font-size="5.8" text-anchor="end" textLength="7.4" lengthAdjust="spacingAndGlyphs" stroke="#000" stroke-width="0.1" >0.5</text>
<line x1="385.50" y1="224.32" x2="388.50" y2="224.32" stroke="#000" stroke-width="1.3" />
<text x="382.40" y="226.42" font-size="5.8" text-anchor="end" textLength="7.4" lengthAdjust="spacingAndGlyphs" stroke="#000" stroke-width="0.1" >1.0</text>
<line x1="385.50" y1="211.78" x2="388.50" y2="211.78" stroke="#000" stroke-width="1.3" />
<text x="382.40" y="213.88" font-size="5.8" text-anchor="end" textLength="7.4" lengthAdjust="spacingAndGlyphs" stroke="#000" stroke-width="0.1" >1.5</text>
<line x1="385.50" y1="199.24" x2="388.50" y2="199.24" stroke="#000" stroke-width="1.3" />
<text x="382.40" y="201.34" font-size="5.8" text-anchor="end" textLength="7.4" lengthAdjust="spacingAndGlyphs" stroke="#000" stroke-width="0.1" >2.0</text>
<line x1="385.50" y1="186.70" x2="388.50" y2="186.70" stroke="#000" stroke-width="1.3" />
<text x="382.40" y="188.80" font-size="5.8" text-anchor="end" textLength="7.4" lengthAdjust="spacingAndGlyphs" stroke="#000" stroke-width="0.1" >2.5</text>
<line x1="388.50" y1="249.40" x2="429.90" y2="249.40" stroke="#000" stroke-width="1.3" />
<rect x="392.10" y="224.70" width="6.00" height="24.70" fill="#cc0012" />
<line x1="395.10" y1="224.70" x2="395.10" y2="224.70" stroke="#000" stroke-width="0" />
<line x1="392.90" y1="224.70" x2="397.30" y2="224.70" stroke="#000" stroke-width="1.1" />
<rect x="401.90" y="212.00" width="5.80" height="37.40" fill="#0b3aa8" />
<line x1="404.80" y1="212.00" x2="404.80" y2="212.00" stroke="#000" stroke-width="0" />
<line x1="404.80" y1="212.00" x2="404.80" y2="201.30" stroke="#000" stroke-width="1.1" />
<line x1="402.60" y1="201.30" x2="407.00" y2="201.30" stroke="#000" stroke-width="1.1" />
<rect x="411.40" y="223.70" width="5.50" height="25.70" fill="#3cf500" />
<line x1="414.15" y1="223.70" x2="414.15" y2="223.70" stroke="#000" stroke-width="0" />
<line x1="414.15" y1="223.70" x2="414.15" y2="221.80" stroke="#000" stroke-width="1.1" />
<line x1="411.95" y1="221.80" x2="416.35" y2="221.80" stroke="#000" stroke-width="1.1" />
<rect x="420.80" y="206.60" width="5.80" height="42.80" fill="#1c0c9c" />
<line x1="423.70" y1="206.60" x2="423.70" y2="206.60" stroke="#000" stroke-width="0" />
<line x1="423.70" y1="206.60" x2="423.70" y2="205.00" stroke="#000" stroke-width="1.1" />
<line x1="421.50" y1="205.00" x2="425.90" y2="205.00" stroke="#000" stroke-width="1.1" />
<line x1="394.70" y1="249.40" x2="394.70" y2="252.80" stroke="#000" stroke-width="1.1" />
<text transform="translate(396.70,256.30) rotate(-45)" font-size="6.5" text-anchor="end" stroke="#000" stroke-width="0.1" >DMSO 24h</text>
<line x1="404.40" y1="249.40" x2="404.40" y2="252.80" stroke="#000" stroke-width="1.1" />
<text transform="translate(406.40,256.30) rotate(-45)" font-size="6.5" text-anchor="end" stroke="#000" stroke-width="0.1" >DMSO 48h</text>
<line x1="413.75" y1="249.40" x2="413.75" y2="252.80" stroke="#000" stroke-width="1.1" />
<text transform="translate(415.75,256.30) rotate(-45)" font-size="6.5" text-anchor="end" stroke="#000" stroke-width="0.1" >BI-3802 24h</text>
<line x1="423.30" y1="249.40" x2="423.30" y2="252.80" stroke="#000" stroke-width="1.1" />
<text transform="translate(425.30,256.30) rotate(-45)" font-size="6.5" text-anchor="end" stroke="#000" stroke-width="0.1" >BI-3802 48h</text>
<text transform="translate(357.00,248.80) rotate(-90)" font-size="7.6" textLength="63" lengthAdjust="spacingAndGlyphs" stroke="#000" stroke-width="0.22">Realtive luminescence</text>
<text transform="translate(366.80,250.60) rotate(-90)" font-size="7.6" textLength="64.6" lengthAdjust="spacingAndGlyphs" stroke="#000" stroke-width="0.22">fold change, DMSO 24h</text>
<text x="5.90" y="302.90" font-size="10.9" font-weight="bold" stroke="#000" stroke-width="0.25" >E</text>
<line x1="46.90" y1="311.60" x2="46.90" y2="377.35" stroke="#000" stroke-width="1.3" />
<line x1="43.50" y1="376.70" x2="46.90" y2="376.70" stroke="#000" stroke-width="1.3" />
<text x="40.80" y="379.00" font-size="6.4" text-anchor="end" textLength="16.0" lengthAdjust="spacingAndGlyphs" stroke="#000" stroke-width="0.1" >0.000</text>
<line x1="43.50" y1="360.60" x2="46.90" y2="360.60" stroke="#000" stroke-width="1.3" />
<text x="40.80" y="362.90" font-size="6.4" text-anchor="end" textLength="16.0" lengthAdjust="spacingAndGlyphs" stroke="#000" stroke-width="0.1" >0.001</text>
<line x1="43.50" y1="344.50" x2="46.90" y2="344.50" stroke="#000" stroke-width="1.3" />
<text x="40.80" y="346.80" font-size="6.4" text-anchor="end" textLength="16.0" lengthAdjust="spacingAndGlyphs" stroke="#000" stroke-width="0.1" >0.002</text>
<line x1="43.50" y1="328.40" x2="46.90" y2="328.40" stroke="#000" stroke-width="1.3" />
<text x="40.80" y="330.70" font-size="6.4" text-anchor="end" textLength="16.0" lengthAdjust="spacingAndGlyphs" stroke="#000" stroke-width="0.1" >0.003</text>
<line x1="43.50" y1="312.30" x2="46.90" y2="312.30" stroke="#000" stroke-width="1.3" />
<text x="40.80" y="314.60" font-size="6.4" text-anchor="end" textLength="16.0" lengthAdjust="spacingAndGlyphs" stroke="#000" stroke-width="0.1" >0.004</text>
<line x1="46.90" y1="376.70" x2="90.60" y2="376.70" stroke="#000" stroke-width="1.3" />
<rect x="50.30" y="354.90" width="9.50" height="21.80" fill="#c80018" />
<line x1="55.05" y1="354.90" x2="55.05" y2="352.40" stroke="#000" stroke-width="1.4" />
<line x1="52.95" y1="352.40" x2="57.15" y2="352.40" stroke="#000" stroke-width="1.5" />
<line x1="55.05" y1="376.70" x2="55.05" y2="380.20" stroke="#000" stroke-width="1.2" />
<text transform="translate(56.95,385.00) rotate(-45)" font-size="6.5" text-anchor="end" stroke="#000" stroke-width="0.15" >DMSO</text>
<rect x="64.10" y="332.30" width="8.90" height="44.40" fill="#0330a4" />
<line x1="68.55" y1="332.30" x2="68.55" y2="329.90" stroke="#000" stroke-width="1.4" />
<line x1="66.45" y1="329.90" x2="70.65" y2="329.90" stroke="#000" stroke-width="1.5" />
<line x1="68.55" y1="376.70" x2="68.55" y2="380.20" stroke="#000" stroke-width="1.2" />
<text transform="translate(70.45,385.00) rotate(-45)" font-size="6.5" text-anchor="end" textLength="26.0" lengthAdjust="spacingAndGlyphs" stroke="#000" stroke-width="0.15" >Gilteritinib</text>
<rect x="76.60" y="344.20" width="9.00" height="32.50" fill="#35fa05" />
<line x1="81.10" y1="344.20" x2="81.10" y2="342.40" stroke="#000" stroke-width="1.4" />
<line x1="79.00" y1="342.40" x2="83.20" y2="342.40" stroke="#000" stroke-width="1.5" />
<line x1="81.10" y1="376.70" x2="81.10" y2="380.20" stroke="#000" stroke-width="1.2" />
<text transform="translate(83.00,385.00) rotate(-45)" font-size="6.5" text-anchor="end" stroke="#000" stroke-width="0.15" >BI-3802</text>
<path d="M54.3,322.0 V319.1 H81.5 V322.0" fill="none" stroke="#000" stroke-width="1.3"/>
<rect x="65.85" y="314.90" width="2.2" height="2.0" rx="0.6" fill="#1a1a1a"/>
<rect x="68.75" y="314.90" width="2.2" height="2.0" rx="0.6" fill="#1a1a1a"/>
<text transform="translate(18.80,370.40) rotate(-90)" font-size="8.6" textLength="53.0" lengthAdjust="spacingAndGlyphs" stroke="#000" stroke-width="0.22"><tspan font-style="italic" font-weight="bold">S100A8</tspan> expression</text>
<line x1="138.90" y1="311.60" x2="138.90" y2="379.15" stroke="#000" stroke-width="1.3" />
<line x1="135.50" y1="378.50" x2="138.90" y2="378.50" stroke="#000" stroke-width="1.3" />
<text x="133.90" y="380.80" font-size="6.4" text-anchor="end" textLength="16" lengthAdjust="spacingAndGlyphs" stroke="#000" stroke-width="0.1" >0.000</text>
<line x1="135.50" y1="365.23" x2="138.90" y2="365.23" stroke="#000" stroke-width="1.3" />
<text x="133.90" y="367.53" font-size="6.4" text-anchor="end" textLength="19.9" lengthAdjust="spacingAndGlyphs" stroke="#000" stroke-width="0.1" >0.0002</text>
<line x1="135.50" y1="351.96" x2="138.90" y2="351.96" stroke="#000" stroke-width="1.3" />
<text x="133.90" y="354.26" font-size="6.4" text-anchor="end" textLength="19.9" lengthAdjust="spacingAndGlyphs" stroke="#000" stroke-width="0.1" >0.0004</text>
<line x1="135.50" y1="338.69" x2="138.90" y2="338.69" stroke="#000" stroke-width="1.3" />
<text x="133.90" y="340.99" font-size="6.4" text-anchor="end" textLength="19.9" lengthAdjust="spacingAndGlyphs" stroke="#000" stroke-width="0.1" >0.0006</text>
<line x1="135.50" y1="325.42" x2="138.90" y2="325.42" stroke="#000" stroke-width="1.3" />
<text x="133.90" y="327.72" font-size="6.4" text-anchor="end" textLength="19.9" lengthAdjust="spacingAndGlyphs" stroke="#000" stroke-width="0.1" >0.0008</text>
<line x1="135.50" y1="312.15" x2="138.90" y2="312.15" stroke="#000" stroke-width="1.3" />
<text x="133.90" y="314.45" font-size="6.4" text-anchor="end" textLength="19.9" lengthAdjust="spacingAndGlyphs" stroke="#000" stroke-width="0.1" >0.0010</text>
<line x1="138.90" y1="378.50" x2="182.80" y2="378.50" stroke="#000" stroke-width="1.3" />
<rect x="143.10" y="345.70" width="8.90" height="32.80" fill="#c80018" />
<line x1="147.55" y1="345.70" x2="147.55" y2="343.70" stroke="#000" stroke-width="1.4" />
<line x1="145.45" y1="343.70" x2="149.65" y2="343.70" stroke="#000" stroke-width="1.5" />
<line x1="147.55" y1="378.50" x2="147.55" y2="381.80" stroke="#000" stroke-width="1.2" />
<text transform="translate(149.45,385.90) rotate(-45)" font-size="6.5" text-anchor="end" stroke="#000" stroke-width="0.15" >DMSO</text>
<rect x="156.40" y="329.10" width="8.90" height="49.40" fill="#0330a4" />
<line x1="160.85" y1="329.10" x2="160.85" y2="321.70" stroke="#000" stroke-width="1.4" />
<line x1="158.75" y1="321.70" x2="162.95" y2="321.70" stroke="#000" stroke-width="1.5" />
<line x1="160.85" y1="378.50" x2="160.85" y2="381.80" stroke="#000" stroke-width="1.2" />
<text transform="translate(162.75,385.90) rotate(-45)" font-size="6.5" text-anchor="end" textLength="26.5" lengthAdjust="spacingAndGlyphs" stroke="#000" stroke-width="0.15" >Gilteritinib</text>
<rect x="169.50" y="320.80" width="9.20" height="57.70" fill="#35fa05" />
<line x1="174.10" y1="320.80" x2="174.10" y2="318.80" stroke="#000" stroke-width="1.4" />
<line x1="172.00" y1="318.80" x2="176.20" y2="318.80" stroke="#000" stroke-width="1.5" />
<line x1="174.10" y1="378.50" x2="174.10" y2="381.80" stroke="#000" stroke-width="1.2" />
<text transform="translate(176.00,385.90) rotate(-45)" font-size="6.5" text-anchor="end" stroke="#000" stroke-width="0.15" >BI-3802</text>
<path d="M148.0,314.8 V311.3 H173.9 V314.8" fill="none" stroke="#000" stroke-width="1.3"/>
<rect x="156.90" y="306.70" width="2.2" height="2.0" rx="0.6" fill="#1a1a1a"/>
<rect x="159.80" y="306.70" width="2.2" height="2.0" rx="0.6" fill="#1a1a1a"/>
<rect x="162.70" y="306.70" width="2.2" height="2.0" rx="0.6" fill="#1a1a1a"/>
<text transform="translate(110.40,371.20) rotate(-90)" font-size="8.6" textLength="52" lengthAdjust="spacingAndGlyphs" stroke="#000" stroke-width="0.22"><tspan font-style="italic" font-weight="bold">S100A9</tspan> expression</text>
<text x="214.70" y="303.20" font-size="10.9" font-weight="bold" stroke="#000" stroke-width="0.25" >F</text>
<text x="257.90" y="320.40" font-size="8.0" text-anchor="end" fill="#222" textLength="30.4" lengthAdjust="spacingAndGlyphs" stroke="#222" stroke-width="0.1" >BI-3802:</text>
<text x="257.90" y="329.10" font-size="8.0" text-anchor="end" fill="#222" textLength="36.3" lengthAdjust="spacingAndGlyphs" stroke="#222" stroke-width="0.1" >Gilteritinib:</text>
<text x="234.10" y="348.20" font-size="8.6" fill="#222" textLength="19.5" lengthAdjust="spacingAndGlyphs" stroke="#222" stroke-width="0.1" >BCL6</text>
<text x="225.30" y="369.00" font-size="8.6" fill="#222" textLength="28.5" lengthAdjust="spacingAndGlyphs" stroke="#222" stroke-width="0.1" >S100A9</text>
<text x="226.20" y="389.50" font-size="8.6" fill="#222" textLength="26.8" lengthAdjust="spacingAndGlyphs" stroke="#222" stroke-width="0.1" >GAPDH</text>
<line x1="266.90" y1="317.80" x2="271.10" y2="317.80" stroke="#2a2a2a" stroke-width="1.2" />
<line x1="266.90" y1="327.30" x2="271.10" y2="327.30" stroke="#2a2a2a" stroke-width="1.2" />
<line x1="291.20" y1="317.80" x2="295.40" y2="317.80" stroke="#2a2a2a" stroke-width="1.2" />
<line x1="291.20" y1="327.30" x2="295.40" y2="327.30" stroke="#2a2a2a" stroke-width="1.2" />
<line x1="293.30" y1="325.20" x2="293.30" y2="329.40" stroke="#2a2a2a" stroke-width="1.2" />
<line x1="311.50" y1="317.80" x2="315.70" y2="317.80" stroke="#2a2a2a" stroke-width="1.2" />
<line x1="313.60" y1="315.70" x2="313.60" y2="319.90" stroke="#2a2a2a" stroke-width="1.2" />
<line x1="311.50" y1="327.30" x2="315.70" y2="327.30" stroke="#2a2a2a" stroke-width="1.2" />
<line x1="332.50" y1="317.80" x2="336.70" y2="317.80" stroke="#2a2a2a" stroke-width="1.2" />
<line x1="334.60" y1="315.70" x2="334.60" y2="319.90" stroke="#2a2a2a" stroke-width="1.2" />
<line x1="332.50" y1="327.30" x2="336.70" y2="327.30" stroke="#2a2a2a" stroke-width="1.2" />
<line x1="334.60" y1="325.20" x2="334.60" y2="329.40" stroke="#2a2a2a" stroke-width="1.2" />
<defs><filter id="bl" x="-20%" y="-80%" width="140%" height="260%"><feGaussianBlur stdDeviation="0.7"/></filter><filter id="bl2" x="-20%" y="-80%" width="140%" height="260%"><feGaussianBlur stdDeviation="1.2"/></filter><linearGradient id="gg" x1="0" y1="0" x2="0" y2="1"><stop offset="0" stop-color="#d4d9d7"/><stop offset="0.45" stop-color="#b9bfbd"/><stop offset="1" stop-color="#e4e8e6"/></linearGradient></defs>
<rect x="259.80" y="333.90" width="89.00" height="19.70" fill="#e4e8e6" />
<rect x="259.90" y="356.60" width="88.90" height="17.80" fill="#e2e6e4" />
<rect x="259.90" y="378.30" width="88.90" height="18.20" fill="#e2e6e4" />
<rect x="259.90" y="378.30" width="88.90" height="6.00" fill="url(#gg)" />
<g filter="url(#bl2)">
<rect x="263" y="341.0" width="15" height="3" rx="1.5" fill="#a4aaa8"/>
<rect x="287" y="341.2" width="14" height="2.6" rx="1.2" fill="#b4bab8"/>
<rect x="262" y="369.5" width="40" height="3" rx="1.5" fill="#ccd1cf"/>
<rect x="300" y="393" width="40" height="1.6" rx="0.8" fill="#b8bdbb"/>
</g>
<g filter="url(#bl)">
<rect x="260.8" y="343.4" width="17.6" height="4.3" rx="2.0" fill="#141a1a"/>
<rect x="283.8" y="343.5" width="18.4" height="4.4" rx="2.0" fill="#1a2020"/>
<rect x="287.2" y="364.1" width="16.3" height="3.1" rx="1.4" fill="#1a2020"/>
<rect x="306.6" y="363.0" width="17.4" height="5.3" rx="2.4" fill="#151b1b"/>
<path d="M329.3,363.6 L343.3,364.9 Q345.3,366.3 343.5,368.5 L330,368.3 Q328.2,366 329.3,363.6 Z" fill="#171d1d"/>
<rect x="260.2" y="382.8" width="85.0" height="7.6" rx="2.5" fill="#1d2525"/>
</g>
<text x="394.00" y="303.30" font-size="10.9" font-weight="bold" stroke="#000" stroke-width="0.25" >G</text>
<line x1="433.00" y1="307.20" x2="433.00" y2="368.95" stroke="#000" stroke-width="1.3" />
<line x1="430.00" y1="368.30" x2="433.00" y2="368.30" stroke="#000" stroke-width="1.3" />
<text x="427.80" y="370.40" font-size="5.9" text-anchor="end" textLength="8.2" lengthAdjust="spacingAndGlyphs" stroke="#000" stroke-width="0.1" >0.0</text>
<line x1="430.00" y1="353.10" x2="433.00" y2="353.10" stroke="#000" stroke-width="1.3" />
<text x="427.80" y="355.20" font-size="5.9" text-anchor="end" textLength="8.2" lengthAdjust="spacingAndGlyphs" stroke="#000" stroke-width="0.1" >0.5</text>
<line x1="430.00" y1="337.90" x2="433.00" y2="337.90" stroke="#000" stroke-width="1.3" />
<text x="427.80" y="340.00" font-size="5.9" text-anchor="end" textLength="8.2" lengthAdjust="spacingAndGlyphs" stroke="#000" stroke-width="0.1" >1.0</text>
<line x1="430.00" y1="322.70" x2="433.00" y2="322.70" stroke="#000" stroke-width="1.3" />
<text x="427.80" y="324.80" font-size="5.9" text-anchor="end" textLength="8.2" lengthAdjust="spacingAndGlyphs" stroke="#000" stroke-width="0.1" >1.5</text>
<line x1="430.00" y1="307.50" x2="433.00" y2="307.50" stroke="#000" stroke-width="1.3" />
<text x="427.80" y="309.60" font-size="5.9" text-anchor="end" textLength="8.2" lengthAdjust="spacingAndGlyphs" stroke="#000" stroke-width="0.1" >2.0</text>
<line x1="433.00" y1="368.30" x2="473.80" y2="368.30" stroke="#000" stroke-width="1.3" />
<rect x="438.80" y="318.60" width="11.80" height="49.70" fill="#0636a6" />
<rect x="456.20" y="311.40" width="12.00" height="56.90" fill="#1f0398" />
<circle cx="440.50" cy="318.20" r="1.35" fill="#555" stroke="#000" stroke-width="1.0"/>
<circle cx="441.00" cy="316.80" r="1.35" fill="#555" stroke="#000" stroke-width="1.0"/>
<circle cx="443.00" cy="319.80" r="1.35" fill="#555" stroke="#000" stroke-width="1.0"/>
<circle cx="445.20" cy="318.20" r="1.35" fill="#555" stroke="#000" stroke-width="1.0"/>
<circle cx="447.00" cy="319.00" r="1.35" fill="#555" stroke="#000" stroke-width="1.0"/>
<circle cx="449.20" cy="319.30" r="1.35" fill="#555" stroke="#000" stroke-width="1.0"/>
<circle cx="444.20" cy="321.50" r="1.35" fill="#555" stroke="#000" stroke-width="1.0"/>
<circle cx="446.00" cy="320.60" r="1.35" fill="#555" stroke="#000" stroke-width="1.0"/>
<circle cx="442.50" cy="318.00" r="1.35" fill="#555" stroke="#000" stroke-width="1.0"/>
<circle cx="458.30" cy="311.00" r="1.35" fill="#555" stroke="#000" stroke-width="1.0"/>
<circle cx="460.50" cy="310.20" r="1.35" fill="#555" stroke="#000" stroke-width="1.0"/>
<circle cx="462.80" cy="310.60" r="1.35" fill="#555" stroke="#000" stroke-width="1.0"/>
<circle cx="465.20" cy="310.00" r="1.35" fill="#555" stroke="#000" stroke-width="1.0"/>
<circle cx="466.50" cy="311.20" r="1.35" fill="#555" stroke="#000" stroke-width="1.0"/>
<circle cx="462.00" cy="312.80" r="1.35" fill="#555" stroke="#000" stroke-width="1.0"/>
<circle cx="462.20" cy="316.00" r="1.35" fill="#555" stroke="#000" stroke-width="1.0"/>
<circle cx="459.50" cy="312.60" r="1.35" fill="#555" stroke="#000" stroke-width="1.0"/>
<path d="M444.4,302.4 V299.6 H461.7 V302.4" fill="none" stroke="#000" stroke-width="1.3"/>
<rect x="448.60" y="295.20" width="2.2" height="2.0" rx="0.6" fill="#1a1a1a"/>
<rect x="451.50" y="295.20" width="2.2" height="2.0" rx="0.6" fill="#1a1a1a"/>
<rect x="454.40" y="295.20" width="2.2" height="2.0" rx="0.6" fill="#1a1a1a"/>
<line x1="444.90" y1="368.30" x2="444.90" y2="371.20" stroke="#000" stroke-width="1.2" />
<text transform="translate(446.40,376.60) rotate(-45)" font-size="6.1" text-anchor="end" textLength="25.0" lengthAdjust="spacingAndGlyphs" stroke="#000" stroke-width="0.15" >Gilteritinib</text>
<line x1="462.30" y1="368.30" x2="462.30" y2="371.20" stroke="#000" stroke-width="1.2" />
<text transform="translate(463.80,376.60) rotate(-45)" font-size="6.1" text-anchor="end" stroke="#000" stroke-width="0.15" >BI-3802 + Gilteritinib</text>
<text transform="translate(400.60,352.70) rotate(-90)" font-size="8.0" textLength="30.7" lengthAdjust="spacingAndGlyphs" stroke="#000" stroke-width="0.22">Cell counts</text>
<text transform="translate(412.20,371.60) rotate(-90)" font-size="8.0" textLength="66.4" lengthAdjust="spacingAndGlyphs" stroke="#000" stroke-width="0.22">fold change, DMSO 24h</text>
<rect x="0.7" y="0.7" width="518.6" height="419.6" fill="none" stroke="#000" stroke-width="1.4"/>
</svg>
</body></html>
